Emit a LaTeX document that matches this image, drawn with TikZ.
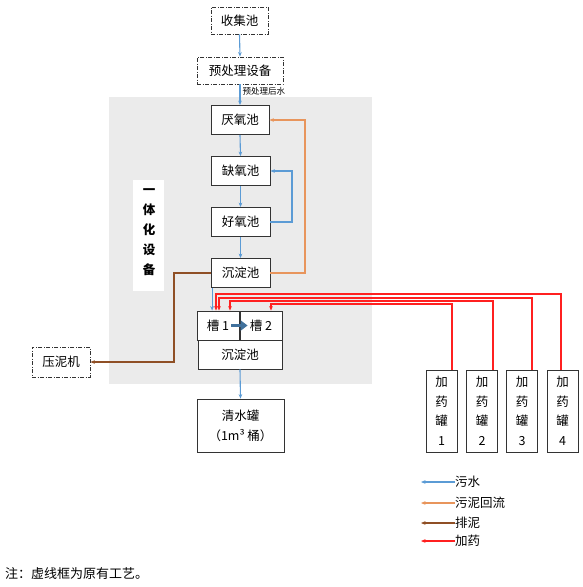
\documentclass[tikz,border=0pt]{standalone}
\usepackage{fontspec}
\setmainfont{Noto Sans CJK SC}
\usetikzlibrary{arrows.meta,calc}
\definecolor{wsblue}{HTML}{5B9BD5}
\definecolor{hlorange}{HTML}{E8955C}
\definecolor{pnbrown}{HTML}{8F4F25}
\definecolor{jyred}{HTML}{FF2020}
\definecolor{bggray}{HTML}{EBEBEB}
\definecolor{flowblue}{HTML}{41719C}
\begin{document}
\begin{tikzpicture}[x=1pt,y=-1pt,
  box/.style={draw=black!80, line width=0.8pt, fill=white, inner sep=0pt, font=\fontsize{12.5}{15}\selectfont},
  oldbox/.style={box, dash pattern=on 4pt off 1.5pt on 1pt off 1.5pt},
  tank/.style={box, minimum width=31pt, minimum height=82pt, align=center, font=\fontsize{12.5}{19.5}\selectfont},
  tip/.style={-{Stealth[length=4.5pt,width=3.6pt]}},
  ws/.style={draw=wsblue, line width=1.1pt, tip},
  hl/.style={draw=hlorange, line width=1.5pt, tip},
  pn/.style={draw=pnbrown, line width=1.8pt, tip},
  jy/.style={draw=jyred, line width=1.1pt, tip},
  lbl/.style={font=\fontsize{12.5}{15}\selectfont, inner sep=0pt, anchor=west}
]
\useasboundingbox (0,0) rectangle (583,587);
% background areas
\fill[bggray] (109,97) rectangle (372,384);
\fill[white] (133,180) rectangle (164,291);
\node[font=\bfseries\fontsize{12.5}{20}\selectfont, align=center, inner sep=0pt] (yth) at (149,232) {一\\体\\化\\设\\备};

% nodes
\node[oldbox, minimum width=57pt, minimum height=27pt] (sj) at (239.5,20.5) {收集池};
\node[oldbox, minimum width=86pt, minimum height=27pt] (ycl) at (240,70.5) {预处理设备};
\node[box, minimum width=58pt, minimum height=29pt] (yy) at (240,120) {厌氧池};
\node[box, minimum width=59pt, minimum height=29pt] (qy) at (240.5,171) {缺氧池};
\node[box, minimum width=59pt, minimum height=29pt] (hy) at (240.5,222) {好氧池};
\node[box, minimum width=59pt, minimum height=29pt] (cd1) at (240.5,273) {沉淀池};
\node[box, minimum width=42pt, minimum height=29pt] (c1) at (218,325.5) {槽 1};
\node[box, minimum width=42pt, minimum height=29pt] (c2) at (261,325.5) {槽 2};
\node[box, minimum width=84pt, minimum height=29pt] (cd2) at (240,354.5) {沉淀池};
\node[box, minimum width=87pt, minimum height=53pt, align=center, font=\fontsize{12.5}{20}\selectfont] (qs) at (240.5,425.5) {清水罐\\（1m³ 桶）};
\node[oldbox, minimum width=58pt, minimum height=30pt] (ynj) at (61,362) {压泥机};
\node[tank] (t1) at (441.5,411) {加\\药\\罐\\1};
\node[tank] (t2) at (482,411) {加\\药\\罐\\2};
\node[tank] (t3) at (522,411) {加\\药\\罐\\3};
\node[tank] (t4) at (562.5,411) {加\\药\\罐\\4};

% guide coordinates for vertical runs
\coordinate (wsx) at (292,0);
\coordinate (hlx) at (305,0);
\coordinate (pnx) at (174,0);

% main flow
\draw[ws] (sj.south) -- (ycl.north);
\draw[ws] (ycl.south) -- node[right, pos=0.35, inner sep=2pt, font=\fontsize{8.5}{10}\selectfont] {预处理后水} (yy.north);
\draw[ws] (yy.south) -- (qy.north);
\draw[ws] (qy.south) -- (hy.north);
\draw[ws] (hy.south) -- (cd1.north);
\draw[ws] (hy.east) -- (hy.east -| wsx) |- (qy.east);
\draw[ws] ([xshift=1.5pt]cd1.south west) -- ([xshift=1.5pt]cd1.south west |- c1.north);
\draw[ws] (cd2.south) -- (qs.north);
% sludge return
\draw[hl] (cd1.east) -- (cd1.east -| hlx) |- (yy.east);
% sludge discharge
\draw[pn] (cd1.west) -- (cd1.west -| pnx) |- (ynj.east);
% flow between tanks
\draw[draw=flowblue, line width=3.5pt, -{Triangle[length=7pt,width=10pt]}] ([xshift=-8pt]c1.east) -- ([xshift=8pt]c2.west);

% dosing lines
\coordinate (r4) at (216,294);
\coordinate (r3) at (219,298);
\coordinate (r2) at (230,301);
\coordinate (r1) at (271,304);
\draw[jy] ([xshift=-1.5pt]t4.north) |- (r4) -- (r4 |- c1.north);
\draw[jy] ([xshift=10pt]t3.north) |- (r3) -- (r3 |- c1.north);
\draw[jy] ([xshift=11pt]t2.north) |- (r2) -- (r2 |- c1.north);
\draw[jy] ([xshift=10.5pt]t1.north) |- (r1) -- (r1 |- c2.north);

% legend
\coordinate (l1) at (455,482); \coordinate (l1e) at (421,482);
\coordinate (l2) at (455,503); \coordinate (l2e) at (421,503);
\coordinate (l3) at (455,523); \coordinate (l3e) at (421,523);
\coordinate (l4) at (455,541); \coordinate (l4e) at (421,541);
\draw[ws] (l1) -- (l1e);
\draw[hl] (l2) -- (l2e);
\draw[pn] (l3) -- (l3e);
\draw[jy] (l4) -- (l4e);
\node[lbl] (t-ws) at (l1) {污水};
\node[lbl] (t-hl) at (l2) {污泥回流};
\node[lbl] (t-pn) at (l3) {排泥};
\node[lbl] (t-jy) at (l4) {加药};

% note
\node[lbl, font=\fontsize{13}{15}\selectfont] (note) at (5,574) {注：虚线框为原有工艺。};
\end{tikzpicture}
\end{document}
